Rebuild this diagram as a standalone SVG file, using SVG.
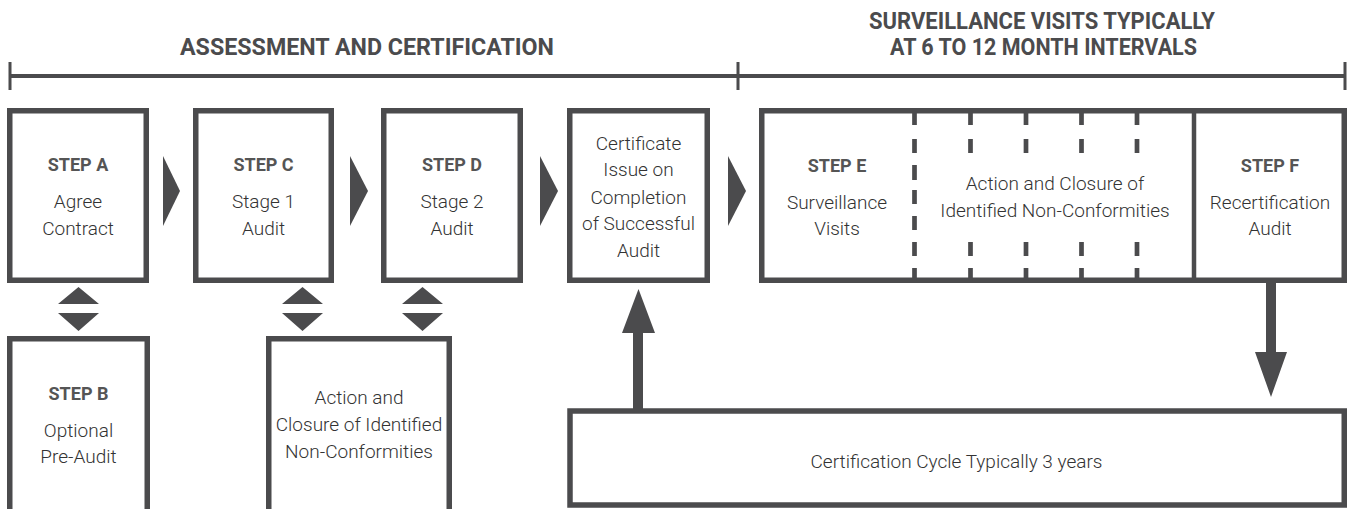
<svg xmlns="http://www.w3.org/2000/svg" width="1351" height="509" viewBox="0 0 1351 509">
<style>
.box{fill:#fff;stroke:#4b4b4d;stroke-width:5.5}
.fill{fill:#4b4b4d}
.t{font-family:Roboto,"Liberation Sans",sans-serif;font-weight:300;font-size:19px;fill:#333;text-anchor:middle}
.b{font-family:Roboto,"Liberation Sans",sans-serif;font-weight:700;font-size:18px;fill:#555;text-anchor:middle}
.h{font-family:Roboto,"Liberation Sans",sans-serif;font-weight:700;font-size:23px;fill:#4b4b4d}
.dash{stroke:#4b4b4d;stroke-width:4.7;fill:none}
.brk{stroke:#4b4b4d;fill:none}
</style>
<g id="headers">
<text class="h" x="180" y="55" textLength="374" lengthAdjust="spacingAndGlyphs">ASSESSMENT AND CERTIFICATION</text>
<text class="h" x="869" y="28.5" textLength="346" lengthAdjust="spacingAndGlyphs">SURVEILLANCE VISITS TYPICALLY</text>
<text class="h" x="890" y="55" textLength="307" lengthAdjust="spacingAndGlyphs">AT 6 TO 12 MONTH INTERVALS</text>
<path class="brk" stroke-width="4" d="M10 76H1346"/>
<path class="brk" stroke-width="3" d="M10 62V90M738 62V90M1345 62V90"/>
</g>
<g id="stepA">
<rect class="box" x="9.75" y="110.75" width="136.5" height="169.5"/>
<text class="b" x="78" y="171">STEP A</text>
<text class="t" x="78" y="208.3">Agree</text>
<text class="t" x="78" y="235">Contract</text>
</g>
<g id="stepC">
<rect class="box" x="195.75" y="110.75" width="135.5" height="169.5"/>
<text class="b" x="263.5" y="171">STEP C</text>
<text class="t" x="263.5" y="208.3">Stage 1</text>
<text class="t" x="263.5" y="235">Audit</text>
</g>
<g id="stepD">
<rect class="box" x="383.75" y="110.75" width="136.5" height="169.5"/>
<text class="b" x="452" y="171">STEP D</text>
<text class="t" x="452" y="208.3">Stage 2</text>
<text class="t" x="452" y="235">Audit</text>
</g>
<g id="certificate">
<rect class="box" x="569.75" y="110.75" width="137.5" height="169.5"/>
<text class="t" x="638.5" y="149.5">Certificate</text>
<text class="t" x="638.5" y="176">Issue on</text>
<text class="t" x="638.5" y="203.5">Completion</text>
<text class="t" x="638.5" y="230">of Successful</text>
<text class="t" x="638.5" y="256.5">Audit</text>
</g>
<g id="stepE">
<rect class="box" x="761.75" y="110.75" width="582.5" height="169.5"/>
<text class="b" x="837" y="171.5">STEP E</text>
<text class="t" x="837" y="209">Surveillance</text>
<text class="t" x="837" y="235">Visits</text>
<path class="dash" d="M914.5 111V125M914.5 139V153M914.5 165V180M914.5 190V204M914.5 216V230M914.5 242V256M914.5 268V281"/>
<path class="dash" d="M970.5 111V125M970.5 139V153M970.5 242V256M970.5 268V281M1026 111V125M1026 139V153M1026 242V256M1026 268V281M1081.5 111V125M1081.5 139V153M1081.5 242V256M1081.5 268V281M1137 111V125M1137 139V153M1137 242V256M1137 268V281"/>
<text class="t" x="1055" y="190">Action and Closure of</text>
<text class="t" x="1055" y="216.5">Identified Non-Conformities</text>
</g>
<g id="stepF">
<path d="M1194 111V281" stroke="#4b4b4d" stroke-width="4.5"/>
<text class="b" x="1270" y="171.5">STEP F</text>
<text class="t" x="1270" y="209">Recertification</text>
<text class="t" x="1270" y="235">Audit</text>
</g>
<g id="stepB">
<rect class="box" x="9.75" y="338.75" width="137.5" height="200"/>
<text class="b" x="78.5" y="399.5">STEP B</text>
<text class="t" x="78.5" y="436.5">Optional</text>
<text class="t" x="78.5" y="463">Pre-Audit</text>
</g>
<g id="actionClosure">
<rect class="box" x="268.75" y="338.75" width="180.5" height="200"/>
<text class="t" x="359" y="404">Action and</text>
<text class="t" x="359" y="431">Closure of Identified</text>
<text class="t" x="359" y="458">Non-Conformities</text>
</g>
<g id="cycle">
<rect class="box" x="570" y="411" width="774.25" height="94"/>
<text class="t" x="956.5" y="468">Certification Cycle Typically 3 years</text>
</g>
<g id="connectors">
<path class="fill" d="M163 156L180 191L163 226Z"/>
<path class="fill" d="M350 156L368 191L350 226Z"/>
<path class="fill" d="M540 156L558 191L540 226Z"/>
<path class="fill" d="M728 156L746 191L728 226Z"/>
<path class="fill" d="M58 304L78.5 287L99 304ZM58 313L99 313L78.5 331Z"/>
<path class="fill" d="M282 304L302.5 287L323 304ZM282 313L323 313L302.5 331Z"/>
<path class="fill" d="M402 304L422.5 287L443 304ZM402 313L443 313L422.5 331Z"/>
<path class="fill" d="M633 411V333H622L638.5 289L655 333H643V411Z"/>
<path class="fill" d="M1266 282V352H1255L1271 397L1287 352H1276V282Z"/>
</g>
</svg>
